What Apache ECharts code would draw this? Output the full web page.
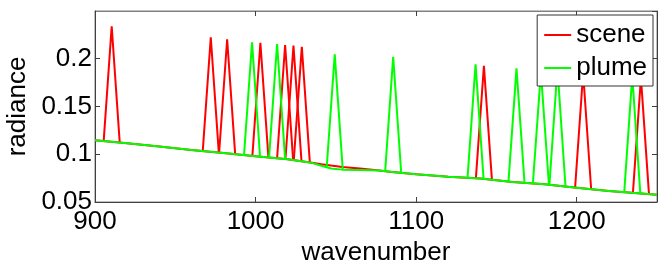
<!DOCTYPE html>
<html>
<head>
<meta charset="utf-8">
<script src="https://cdn.jsdelivr.net/npm/echarts@6/dist/echarts.min.js"></script>
<style>html,body{margin:0;padding:0;background:#fff;}#c{width:664px;height:263px;}</style>
</head>
<body>
<div id="c"></div>
<script>
// ---- data ----
const baseWn    = [900, 920, 940, 960, 980, 1000, 1020, 1035, 1041, 1047, 1054, 1065, 1077, 1085, 1100, 1120, 1140, 1160, 1180, 1200, 1220, 1240, 1250];
const sceneBase = [0.1146, 0.1115, 0.1082, 0.1045, 0.1012, 0.0978, 0.0948, 0.0910, 0.0895, 0.0881, 0.0866, 0.0852, 0.0831, 0.0814, 0.0790, 0.0765, 0.0745, 0.0710, 0.0685, 0.0650, 0.0615, 0.0590, 0.0575];
const plumeBase = [0.1146, 0.1115, 0.1082, 0.1045, 0.1012, 0.0978, 0.0948, 0.0910, 0.0880, 0.0850, 0.0839, 0.0835, 0.0829, 0.0814, 0.0790, 0.0765, 0.0745, 0.0710, 0.0685, 0.0650, 0.0615, 0.0590, 0.0575];
// spikes: [leftWn, leftVal, peakWn, peakVal, rightWn, rightVal]
const sceneSpikes = [
  [905.4, 0.1138, 910.4, 0.2340, 915.4, 0.1122],
  [967.1, 0.1033, 972.1, 0.2225, 977.1, 0.1017],
  [977.3, 0.1016, 982.3, 0.2204, 987.3, 0.0999],
  [998.0, 0.0981, 1003.0, 0.2168, 1008.0, 0.0966],
  [1013.4, 0.0958, 1018.4, 0.2144, 1023.4, 0.0939],
  [1018.6, 0.0950, 1023.6, 0.2137, 1028.6, 0.0926],
  [1023.8, 0.0938, 1028.8, 0.2126, 1033.8, 0.0913],
  [1137.2, 0.0748, 1142.2, 0.1926, 1147.2, 0.0732],
  [1199.0, 0.0652, 1204.0, 0.1850, 1209.0, 0.0634],
  [1235.0, 0.0596, 1240.0, 0.1800, 1245.0, 0.0583]
];
const plumeSpikes = [
  [992.8, 0.0990, 997.8, 0.2172, 1002.8, 0.0974],
  [1008.4, 0.0965, 1013.4, 0.2154, 1018.4, 0.0950],
  [1044.3, 0.0864, 1049.3, 0.2046, 1054.3, 0.0839],
  [1080.7, 0.0821, 1085.7, 0.2021, 1090.7, 0.0804],
  [1132.0, 0.0753, 1137.0, 0.1942, 1142.0, 0.0742],
  [1157.5, 0.0714, 1162.5, 0.1899, 1167.5, 0.0701],
  [1172.7, 0.0694, 1177.7, 0.1860, 1182.7, 0.0680],
  [1183.0, 0.0680, 1188.0, 0.1900, 1193.0, 0.0663],
  [1229.6, 0.0603, 1234.6, 0.1820, 1239.6, 0.0591]
];
const xTicks = {min: 900, max: 1250, interval: 100};
const yTicks = {min: 0.05, max: 0.25, interval: 0.05};

// ---- build ----
const FONT = "'Liberation Sans', Arial, Helvetica, sans-serif";
const RED = '#ff0000', GREEN = '#00ff00';
function lineSeries(name, color, data, z) {
  return {
    name: name, type: 'line', data: data, showSymbol: false, symbol: 'none',
    lineStyle: {color: color, width: 2}, itemStyle: {color: color},
    animation: false, silent: true, z: z
  };
}
function spikeData(s) { return [[s[0], s[1]], [s[2], s[3]], [s[4], s[5]]]; }

const series = [];
series.push(lineSeries('scene', RED, baseWn.map((w, i) => [w, sceneBase[i]]), 2));
sceneSpikes.forEach(s => series.push(lineSeries('scene', RED, spikeData(s), 2)));
series.push(lineSeries('plume', GREEN, baseWn.map((w, i) => [w, plumeBase[i]]), 3));
plumeSpikes.forEach(s => series.push(lineSeries('plume', GREEN, spikeData(s), 3)));

const axisColor = '#404040';
const chart = echarts.init(document.getElementById('c'), null, {renderer: 'canvas'});
chart.setOption({
  animation: false,
  backgroundColor: '#fff',
  textStyle: {fontFamily: FONT},
  grid: {left: 95, right: 7, top: 11, bottom: 61, containLabel: false, outerBoundsMode: 'none',
         show: true, borderColor: '#808080', borderWidth: 1, backgroundColor: 'transparent'},
  legend: {
    data: [{name: 'scene'}, {name: 'plume'}],
    orient: 'vertical', right: 11, top: 15,
    icon: 'rect', itemWidth: 27, itemHeight: 2, itemGap: 7,
    padding: [7, 6, 5, 7],
    backgroundColor: '#fff', borderColor: '#333', borderWidth: 1, borderRadius: 0,
    textStyle: {fontSize: 26, color: '#000', fontFamily: FONT, padding: [0, 0, 0, 0]},
    selectedMode: false, z: 10
  },
  xAxis: [{
    type: 'value', min: xTicks.min, max: xTicks.max, interval: xTicks.interval,
    name: 'wavenumber', nameLocation: 'middle', nameGap: 32,
    nameTextStyle: {fontSize: 26, color: '#000', fontFamily: FONT},
    axisLine: {show: true, lineStyle: {color: axisColor, width: 1}},
    axisTick: {show: true, inside: true, length: 5, lineStyle: {color: axisColor}},
    axisLabel: {fontSize: 26, color: '#000', margin: 7, fontFamily: FONT, showMaxLabel: false,
                formatter: v => String(v)},
    splitLine: {show: false}
  }, {
    type: 'value', position: 'top', min: xTicks.min, max: xTicks.max, interval: xTicks.interval,
    axisLine: {show: true, lineStyle: {color: '#808080'}},
    axisTick: {show: true, inside: true, length: 5, lineStyle: {color: axisColor}},
    axisLabel: {show: false}, splitLine: {show: false}
  }],
  yAxis: [{
    type: 'value', min: yTicks.min, max: yTicks.max, interval: yTicks.interval,
    name: 'radiance', nameLocation: 'middle', nameGap: 57,
    nameTextStyle: {fontSize: 26, color: '#000', fontFamily: FONT},
    axisLine: {show: true, lineStyle: {color: axisColor, width: 1}},
    axisTick: {show: true, inside: true, length: 5, lineStyle: {color: axisColor}},
    axisLabel: {fontSize: 26, color: '#000', margin: 3, fontFamily: FONT, showMaxLabel: false},
    splitLine: {show: false}
  }, {
    type: 'value', position: 'right', min: yTicks.min, max: yTicks.max, interval: yTicks.interval,
    axisLine: {show: true, lineStyle: {color: axisColor}},
    axisTick: {show: true, inside: true, length: 5, lineStyle: {color: axisColor}},
    axisLabel: {show: false}, splitLine: {show: false}
  }],
  series: series
});
</script>
</body>
</html>
